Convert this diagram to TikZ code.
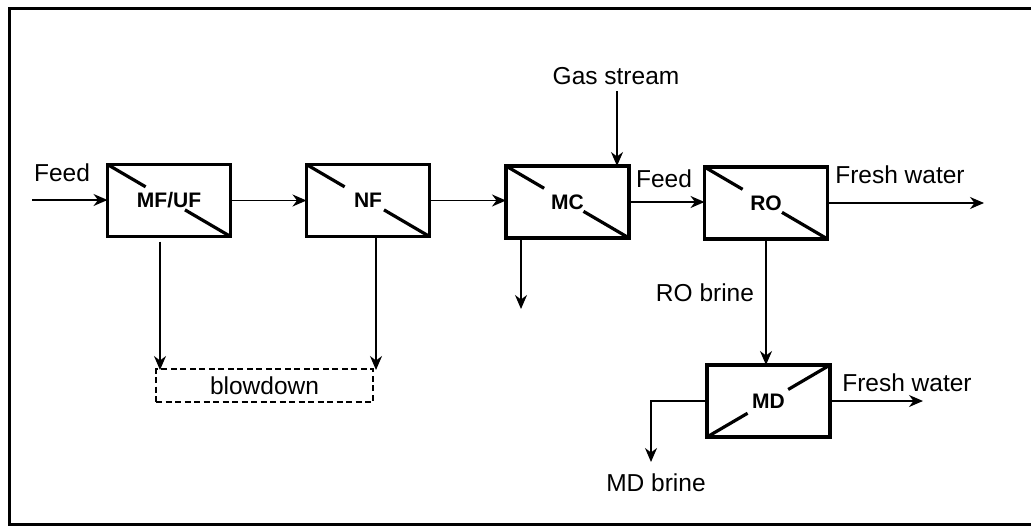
\documentclass[tikz,border=0pt]{standalone}
\usepackage{fontspec}
\setmainfont{Liberation Sans}
\usetikzlibrary{arrows.meta,calc}
\begin{document}
\begin{tikzpicture}[x=1pt,y=-1pt,
  unit/.style={draw, line width=3.4pt, minimum width=123pt, minimum height=72pt, inner sep=0pt, outer sep=0pt, font=\bfseries\fontsize{21}{25}\selectfont},
  diag/.style={line width=3.2pt},
  flow/.style={line width=1.7pt, -{Stealth[length=14pt,width=12pt,inset=4.5pt]}},
  lbl/.style={font=\fontsize{24.5}{29}\selectfont, inner sep=0pt},
  waste/.style={draw, line width=1.6pt, dash pattern=on 6pt off 3.5pt, minimum width=217pt, minimum height=33pt, inner sep=0pt, outer sep=0pt, font=\fontsize{24.5}{29}\selectfont}
]
\useasboundingbox (0,0) rectangle (1031,525);
\draw[line width=3pt] (1040,8) -- (9,8) -- (9,524) -- (1040,524);

% units
\node[unit] (mfuf) at (169,200.5) {MF/UF};
\node[unit] (nf) at (368,200.5) {NF};
\node[unit] (mc) at (567.5,202) {MC};
\node[unit] (ro) at (766,203) {RO};
\node[unit] (md) at (768.5,401) {MD};
\node[waste] (bd) at (264.5,385.5) {blowdown};

% membrane diagonals
\foreach \n in {mfuf,nf,mc,ro}{
  \draw[diag] (\n.north west) -- ($(\n.north west)!0.31!(\n.south east)$);
  \draw[diag] ($(\n.north west)!0.63!(\n.south east)$) -- (\n.south east);
}
\draw[diag] (md.south west) -- ($(md.south west)!0.33!(md.north east)$);
\draw[diag] ($(md.south west)!0.66!(md.north east)$) -- (md.north east);

% labels
\node[lbl] (lfeed) at (62,173) {Feed};
\node[lbl] (lgas) at (616,76) {Gas stream};
\node[lbl] (lfeed2) at (664,179) {Feed};
\node[lbl] (lfw1) at (900,175) {Fresh water};
\node[lbl] (lrob) at (705,293) {RO brine};
\node[lbl] (lfw2) at (907,383) {Fresh water};
\node[lbl] (lmdb) at (656,483) {MD brine};

% free ends
\coordinate (feedin) at (32,200);
\coordinate (gastop) at (617,91);
\coordinate (mcout) at (521,309);
\coordinate (roout) at (984,203);
\coordinate (mdout) at (923,401);
\coordinate (mdb) at (651,462);
\coordinate (b1) at (160,370);
\coordinate (b2) at (376,370);

% connectors
\draw[flow] (feedin) -- (feedin -| mfuf.west);
\draw[flow] (mfuf.east) -- (nf.west);
\draw[flow] (nf.east) -- (nf.east -| mc.west);
\draw[flow] (mc.east) -- (mc.east -| ro.west);
\draw[flow] (ro.east) -- (roout);
\draw[flow] (gastop) -- (gastop |- mc.north);
\draw[flow] (mcout |- mc.south) -- (mcout);
\draw[flow] (ro.south) -- (ro.south |- md.north);
\draw[flow] (md.west) -| (mdb);
\draw[flow] (md.east) -- (mdout);
\draw[flow, shorten <=5pt] (b1 |- mfuf.south) -- (b1);
\draw[flow] (b2 |- nf.south) -- (b2);
\end{tikzpicture}
\end{document}
